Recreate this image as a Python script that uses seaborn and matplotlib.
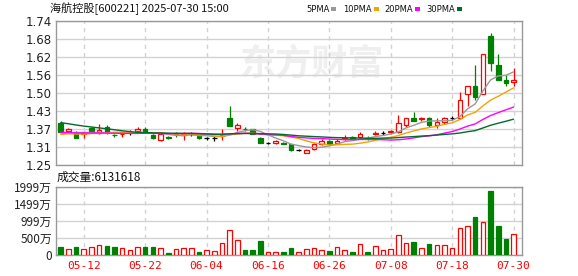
import numpy as np
import pandas as pd
import matplotlib
matplotlib.use('Agg')
import matplotlib.pyplot as plt
import seaborn as sns
from matplotlib.patches import Rectangle

# ---------------- data ----------------
dates = ['05-07', '05-08', '05-09', '05-12', '05-13', '05-14', '05-15', '05-16', '05-19', '05-20',
         '05-21', '05-22', '05-23', '05-26', '05-27', '05-28', '05-29', '05-30', '06-03', '06-04',
         '06-05', '06-06', '06-09', '06-10', '06-11', '06-12', '06-13', '06-16', '06-17', '06-18',
         '06-19', '06-20', '06-23', '06-24', '06-25', '06-26', '06-27', '06-30', '07-01', '07-02',
         '07-03', '07-04', '07-07', '07-08', '07-09', '07-10', '07-11', '07-14', '07-15', '07-16',
         '07-17', '07-18', '07-21', '07-22', '07-23', '07-24', '07-25', '07-28', '07-29', '07-30']

opens = [1.394, 1.365, 1.361, 1.354, 1.375, 1.360, 1.380, 1.353, 1.354, 1.361,
         1.364, 1.372, 1.352, 1.335, 1.346, 1.360, 1.352, 1.356, 1.347, 1.341,
         1.341, 1.348, 1.409, 1.376, 1.373, 1.371, 1.343, 1.325, 1.325, 1.326,
         1.320, 1.300, 1.291, 1.303, 1.322, 1.333, 1.324, 1.339, 1.345, 1.344,
         1.343, 1.356, 1.359, 1.361, 1.363, 1.386, 1.409, 1.405, 1.409, 1.386,
         1.397, 1.409, 1.409, 1.492, 1.519, 1.492, 1.689, 1.590, 1.539, 1.531]
highs = [1.400, 1.377, 1.366, 1.362, 1.380, 1.391, 1.387, 1.357, 1.362, 1.368,
         1.379, 1.379, 1.356, 1.356, 1.350, 1.362, 1.362, 1.362, 1.350, 1.346,
         1.347, 1.372, 1.451, 1.392, 1.379, 1.373, 1.345, 1.328, 1.335, 1.329,
         1.323, 1.304, 1.303, 1.325, 1.337, 1.336, 1.337, 1.352, 1.348, 1.362,
         1.348, 1.366, 1.366, 1.369, 1.420, 1.410, 1.429, 1.413, 1.413, 1.410,
         1.413, 1.418, 1.499, 1.519, 1.590, 1.628, 1.700, 1.628, 1.556, 1.579]
lows = [1.362, 1.362, 1.341, 1.343, 1.363, 1.354, 1.355, 1.346, 1.345, 1.353,
        1.362, 1.358, 1.338, 1.333, 1.340, 1.345, 1.335, 1.350, 1.338, 1.336,
        1.333, 1.335, 1.384, 1.364, 1.366, 1.355, 1.324, 1.322, 1.322, 1.321,
        1.298, 1.296, 1.290, 1.301, 1.319, 1.320, 1.322, 1.335, 1.337, 1.337,
        1.336, 1.351, 1.351, 1.357, 1.358, 1.378, 1.399, 1.400, 1.378, 1.375,
        1.389, 1.402, 1.406, 1.451, 1.471, 1.490, 1.571, 1.539, 1.519, 1.519]
closes = [1.363, 1.371, 1.343, 1.358, 1.367, 1.368, 1.361, 1.351, 1.357, 1.361,
          1.372, 1.361, 1.341, 1.354, 1.343, 1.355, 1.356, 1.356, 1.341, 1.341,
          1.341, 1.353, 1.384, 1.385, 1.371, 1.357, 1.325, 1.325, 1.332, 1.323,
          1.300, 1.300, 1.301, 1.320, 1.332, 1.322, 1.332, 1.341, 1.339, 1.354,
          1.341, 1.359, 1.359, 1.364, 1.392, 1.409, 1.401, 1.409, 1.386, 1.397,
          1.409, 1.409, 1.471, 1.519, 1.481, 1.628, 1.598, 1.539, 1.530, 1.539]
volumes = [2440000, 1760000, 2440000, 1760000, 2340000, 2930000, 2630000, 2440000, 2050000, 1460000,
           2440000, 2440000, 2440000, 1950000, 590000, 1760000, 1950000, 1950000, 880000, 1460000,
           1170000, 3410000, 7320000, 4390000, 1460000, 1460000, 4100000, 780000, 780000, 880000,
           2150000, 780000, 1760000, 1950000, 1460000, 1170000, 2340000, 1460000, 880000, 3120000,
           880000, 2630000, 1370000, 1760000, 5850000, 3410000, 3900000, 2050000, 3220000, 2930000,
           2930000, 2050000, 8000000, 8490000, 11120000, 9660000, 18830000, 8490000, 4680000, 6131618]
# closes of the 29 sessions before the first visible one (needed for the moving averages)
prior_closes = [1.48, 1.47, 1.47, 1.46, 1.46, 1.45, 1.45, 1.46, 1.45, 1.45,
                1.38, 1.37, 1.36, 1.37, 1.37, 1.36, 1.37, 1.36, 1.37, 1.37,
                1.35, 1.35, 1.36, 1.35, 1.355, 1.345, 1.345, 1.352, 1.37]

ma_windows = [5, 10, 20, 30]
ma_names = ['5PMA', '10PMA', '20PMA', '30PMA']
price_tick_labels = ['1.25', '1.31', '1.37', '1.43', '1.50', '1.56', '1.62', '1.68', '1.74']
price_min, price_max = 1.25, 1.74
vol_max = 19990000
vol_tick_labels = ['0', '500万', '999万', '1499万', '1999万']
tick_dates = ['05-12', '05-22', '06-04', '06-16', '06-26', '07-08', '07-18', '07-30']
title = '海航控股[600221] 2025-07-30 15:00'
vol_title = '成交量:6131618'

# ---------------- styling ----------------
RED = '#ff0000'
GREEN = '#008000'
MA_COLORS = ['#999999', '#f5a300', '#ff00ff', '#006b2e']
GRID = '#d2d2d2'
FRAME = '#999999'
CJK = ['Noto Sans CJK SC', 'DejaVu Sans']

sns.set_theme(style='white')
plt.rcParams['font.family'] = ['DejaVu Sans', 'Noto Sans CJK SC']

n = len(closes)
df = pd.DataFrame({'i': np.arange(n), 'date': dates, 'open': opens, 'high': highs,
                   'low': lows, 'close': closes, 'volume': volumes})
full = pd.Series(prior_closes + closes)
for w, name in zip(ma_windows, ma_names):
    df[name] = full.rolling(w).mean().iloc[-n:].to_numpy()
prev_close = [prior_closes[-1]] + closes[:-1]
df['vol_up'] = np.array(closes) >= np.array(prev_close)

W, H = 578, 276
fig = plt.figure(figsize=(W / 100, H / 100), dpi=100)
fig.patch.set_facecolor('white')


def fbox(left, top, right, bottom):
    return [left / W, 1 - bottom / H, (right - left) / W, (bottom - top) / H]


ax = fig.add_axes(fbox(56, 21, 522, 165))
axv = fig.add_axes(fbox(56, 187, 522, 255))

xlim = (-0.62, 60.1)
tick_idx = [dates.index(d) for d in tick_dates]

# watermark
ax.text(0.55, 0.70, '东方财富', transform=ax.transAxes, ha='center', va='center',
        fontsize=26, fontweight='bold', color='#efefef', family=CJK, zorder=0)

# ---- candlesticks ----
bw = 0.6
for r in df.itertuples():
    o, c = r.open, r.close
    if c > o:
        col = RED
    elif c < o:
        col = GREEN
    else:
        col = 'black'
    ax.vlines(r.i, r.low, r.high, color=col, linewidth=0.9, zorder=2)
    if c == o:
        ax.hlines(o, r.i - bw / 2, r.i + bw / 2, color=col, linewidth=0.9, zorder=3)
    else:
        face = 'white' if c > o else GREEN
        ax.bar(r.i, abs(c - o), bottom=min(o, c), width=bw, facecolor=face,
               edgecolor=col, linewidth=0.9, zorder=3)

# ---- moving averages ----
for name, colr in zip(ma_names, MA_COLORS):
    sns.lineplot(data=df, x='i', y=name, ax=ax, color=colr, linewidth=1.0, zorder=4)

ax.set_xlim(*xlim)
ax.set_ylim(price_min, price_max)
yt = np.linspace(price_min, price_max, len(price_tick_labels))
ax.set_yticks(yt)
ax.set_yticklabels(price_tick_labels)
ax.set_xticks(tick_idx)
ax.set_xticklabels([])
ax.set_xlabel('')
ax.set_ylabel('')

# ---- volume ----
for r in df.itertuples():
    if r.vol_up:
        axv.bar(r.i, r.volume, width=bw, facecolor='white', edgecolor=RED, linewidth=0.9, zorder=3)
    else:
        axv.bar(r.i, r.volume, width=bw, facecolor=GREEN, edgecolor=GREEN, linewidth=0.9, zorder=3)
axv.set_xlim(*xlim)
axv.set_ylim(0, vol_max)
axv.set_yticks(np.linspace(0, vol_max, len(vol_tick_labels)))
axv.set_yticklabels(vol_tick_labels, family=CJK)
axv.set_xticks(tick_idx)
axv.set_xticklabels(tick_dates, color=RED, fontsize=8, family='DejaVu Sans Mono')

for a in (ax, axv):
    a.set_axisbelow(True)
    a.grid(axis='y', color=GRID, linewidth=1.0, linestyle='-')
    a.grid(axis='x', color=GRID, linewidth=1.0, linestyle=(0, (3, 3)))
    for s in a.spines.values():
        s.set_color(FRAME)
        s.set_linewidth(1.0)
    a.tick_params(axis='y', length=0, pad=3, labelsize=8.5, labelcolor='#222222')
    a.tick_params(axis='x', length=0, pad=4)
    a.set_facecolor('white')
    if a.get_legend():
        a.get_legend().remove()

# ---- header texts ----
fig.text(50 / W, 1 - 8.5 / H, title, ha='left', va='center', fontsize=8, family=CJK, color='#111111')
fig.text(57 / W, 1 - 177 / H, vol_title, ha='left', va='center', fontsize=8.5, family=CJK, color='#111111')

leg_x = [306, 343, 384, 426]
fig.canvas.draw()
renderer = fig.canvas.get_renderer()
for name, colr, lx in zip(ma_names, MA_COLORS, leg_x):
    t = fig.text(lx / W, 1 - 9 / H, name, ha='left', va='center', fontsize=6, color='#111111')
    ext = t.get_window_extent(renderer=renderer)
    sx = ext.x1 + 2
    fig.add_artist(Rectangle((sx / W, 1 - 10.5 / H), 5 / W, 3.5 / H, transform=fig.transFigure,
                             facecolor=colr, edgecolor='none'))

fig.savefig('out.png', dpi=100, facecolor='white')
